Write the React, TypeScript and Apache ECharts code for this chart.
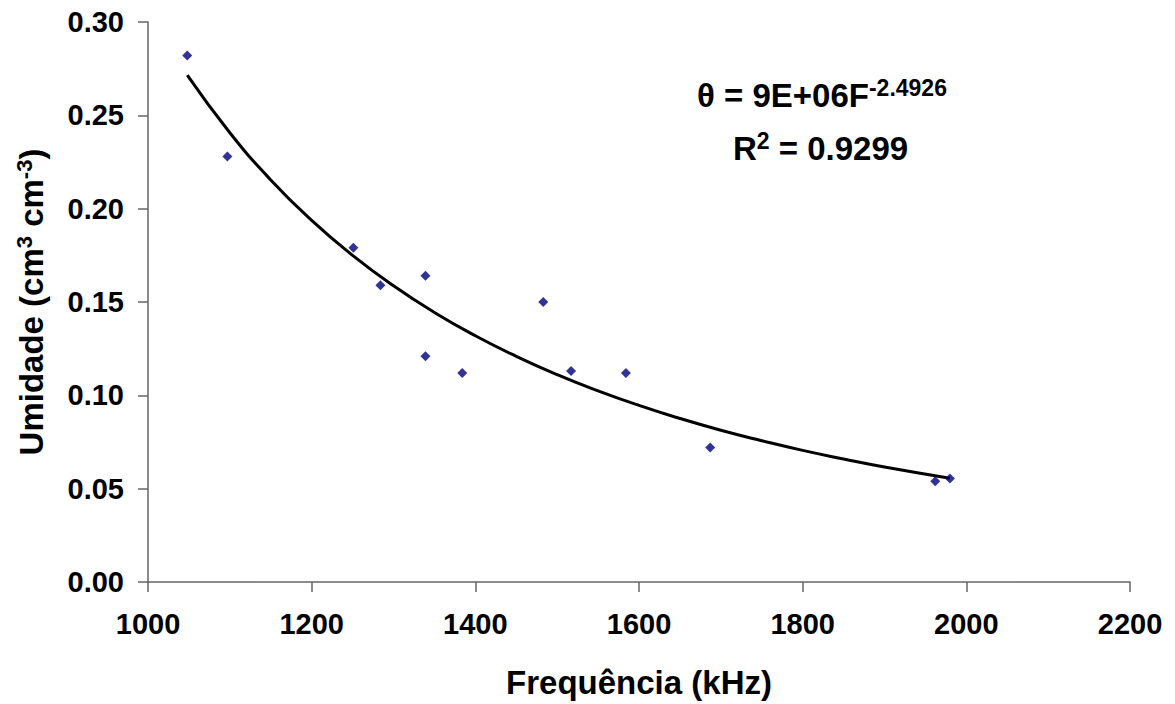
import React, { useEffect, useRef } from "react";
import * as echarts from "echarts";

const freq = [1048, 1097, 1251, 1284, 1339, 1339, 1384, 1483, 1517, 1584, 1687, 1962, 1980];
const moisture = [0.282, 0.228, 0.179, 0.159, 0.164, 0.121, 0.112, 0.150, 0.113, 0.112, 0.072, 0.054, 0.0555];

const trendX = [1048, 1100, 1150, 1200, 1250, 1300, 1350, 1400, 1450, 1500, 1550, 1600, 1650, 1700, 1750, 1800, 1850, 1900, 1980];
const trendY = [0.2715, 0.2407, 0.2154, 0.1937, 0.1750, 0.1587, 0.1444, 0.1319, 0.1209, 0.1111, 0.1024, 0.0946, 0.0876, 0.0813, 0.0757, 0.0705, 0.0659, 0.0616, 0.0556];

const xTicks = [1000, 1200, 1400, 1600, 1800, 2000, 2200];
const yTicks = [0.0, 0.05, 0.1, 0.15, 0.2, 0.25, 0.3];

const FONT = "'Liberation Sans', Arial, sans-serif";

export default function App() {
  const ref = useRef<HTMLDivElement>(null);
  useEffect(() => {
    if (!ref.current) return;
    const chart = echarts.init(ref.current, undefined, { renderer: "svg" });
    const axisColor = "#666666";
    chart.setOption({
      animation: false,
      backgroundColor: "#ffffff",
      grid: { left: 148, top: 22, right: 45, bottom: 120, containLabel: false },
      xAxis: {
        type: "value",
        min: xTicks[0],
        max: xTicks[xTicks.length - 1],
        interval: 200,
        name: "Frequência (kHz)",
        nameLocation: "middle",
        nameGap: 84,
        nameTextStyle: { fontFamily: FONT, fontWeight: "bold", fontSize: 33, color: "#000" },
        axisLine: { show: true, onZero: false, lineStyle: { color: axisColor, width: 1.5 } },
        axisTick: { show: true, inside: false, length: 10, lineStyle: { color: axisColor, width: 1.5 } },
        axisLabel: {
          margin: 27,
          fontFamily: FONT,
          fontWeight: "bold",
          fontSize: 29,
          color: "#000",
          formatter: (v: number) => String(v),
        },
        splitLine: { show: false },
      },
      yAxis: {
        type: "value",
        min: yTicks[0],
        max: yTicks[yTicks.length - 1],
        interval: 0.05,
        name: "Umidade (cm{sup|3} cm{sup|-3})",
        nameLocation: "middle",
        nameGap: 99,
        nameRotate: 90,
        nameTextStyle: {
          fontFamily: FONT,
          fontWeight: "bold",
          fontSize: 33,
          color: "#000",
          lineHeight: 36,
          rich: {
            sup: { fontFamily: FONT, fontWeight: "bold", fontSize: 22, lineHeight: 22, verticalAlign: "top", color: "#000" },
          },
        },
        axisLine: { show: true, onZero: false, lineStyle: { color: axisColor, width: 1.5 } },
        axisTick: { show: true, inside: false, length: 10, lineStyle: { color: axisColor, width: 1.5 } },
        axisLabel: {
          margin: 24,
          fontFamily: FONT,
          fontWeight: "bold",
          fontSize: 29,
          color: "#000",
          formatter: (v: number) => v.toFixed(2),
        },
        splitLine: { show: false },
      },
      series: [
        {
          type: "line",
          data: trendX.map((x, i) => [x, trendY[i]]),
          smooth: true,
          showSymbol: false,
          lineStyle: { color: "#000", width: 3 },
          z: 2,
        },
        {
          type: "scatter",
          data: freq.map((x, i) => [x, moisture[i]]),
          symbol: "diamond",
          symbolSize: 10,
          itemStyle: { color: "#00007a" },
          z: 3,
        },
      ],
      graphic: [
        {
          type: "text",
          left: 697,
          top: 76,
          style: {
            text: "θ = 9E+06F{sup|-2.4926}",
            font: `bold 33px ${FONT}`,
            fill: "#000",
            lineHeight: 38,
            rich: {
              sup: { font: `bold 23px ${FONT}`, fill: "#000", lineHeight: 23, verticalAlign: "top" },
            },
          },
        },
        {
          type: "text",
          left: 733,
          top: 129,
          style: {
            text: "R{sup|2} = 0.9299",
            font: `bold 33px ${FONT}`,
            fill: "#000",
            lineHeight: 38,
            rich: {
              sup: { font: `bold 23px ${FONT}`, fill: "#000", lineHeight: 23, verticalAlign: "top" },
            },
          },
        },
      ],
    });
    return () => chart.dispose();
  }, []);
  return (
    <div
      ref={ref}
      style={{ position: "fixed", left: 0, top: 0, width: 1175, height: 704, background: "#fff" }}
    />
  );
}
